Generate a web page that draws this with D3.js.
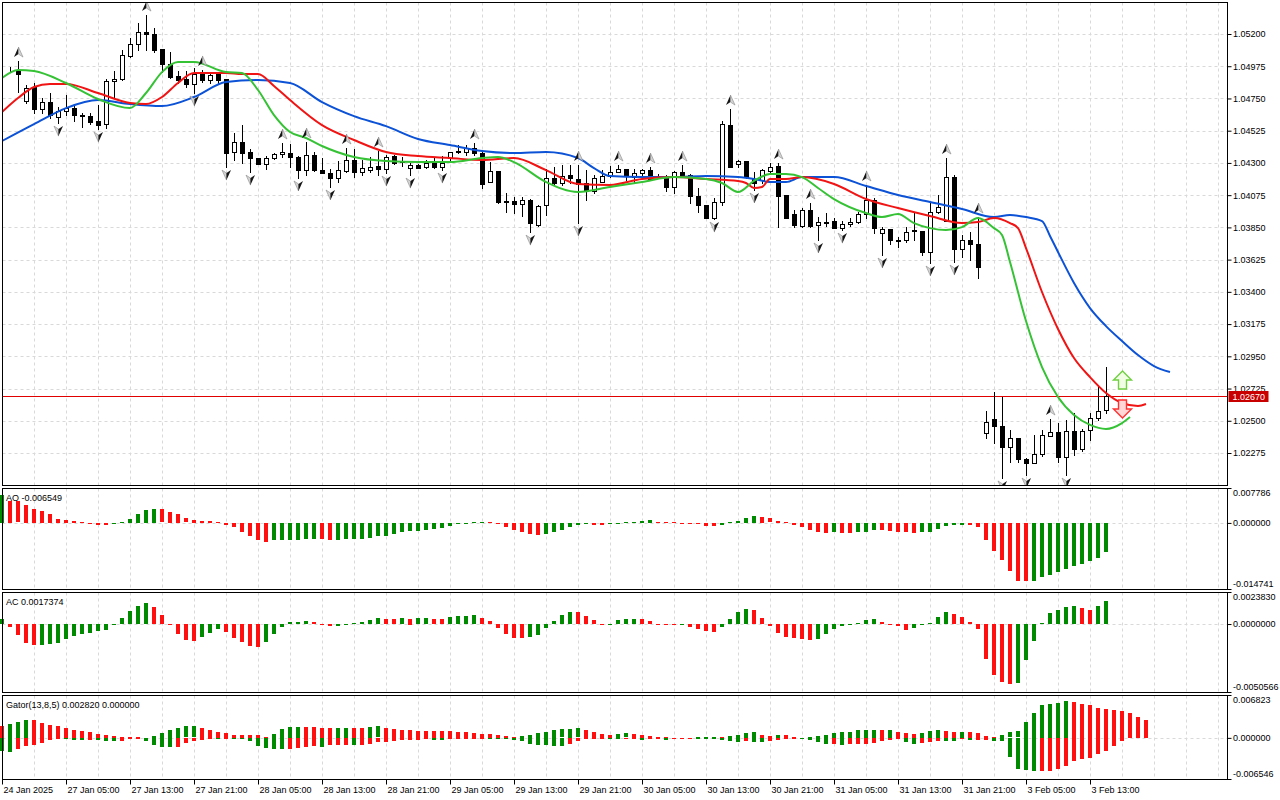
<!DOCTYPE html>
<html>
<head>
<meta charset="utf-8">
<script src="https://cdn.jsdelivr.net/npm/d3@7"></script>
<style>
  body { margin: 0; background: #fff; }
  svg { display: block; font-family: "Liberation Sans", Arial, sans-serif; }
</style>
</head>
<body>
<div id="chart"></div>
<script>
// EURUSD H1, 24 Jan - 3 Feb 2025
const open = [
  1.04955, 1.04952, 1.04949, 1.04732, 1.04830, 1.04676, 1.04725, 1.04620, 1.04662, 1.04683,
  1.04634, 1.04627, 1.04592, 1.04571, 1.04872, 1.04886, 1.05046, 1.05130, 1.05214, 1.05200,
  1.05095, 1.04990, 1.04906, 1.04886, 1.04851, 1.04927, 1.04879, 1.04920, 1.04886, 1.04376,
  1.04446, 1.04376, 1.04334, 1.04292, 1.04334, 1.04362, 1.04369, 1.04341, 1.04250, 1.04355,
  1.04250, 1.04229, 1.04195, 1.04243, 1.04320, 1.04236, 1.04250, 1.04278, 1.04257, 1.04348,
  1.04313, 1.04264, 1.04285, 1.04271, 1.04299, 1.04271, 1.04334, 1.04383, 1.04376, 1.04404,
  1.04369, 1.04167, 1.04243, 1.04034, 1.04034, 1.04013, 1.04041, 1.03866, 1.04006, 1.04195,
  1.04160, 1.04215, 1.04188, 1.04160, 1.04104, 1.04167, 1.04208, 1.04236, 1.04257, 1.04201,
  1.04229, 1.04250, 1.04208, 1.04208, 1.04132, 1.04236, 1.04215, 1.04069, 1.04006, 1.03915,
  1.04027, 1.04564, 1.04292, 1.04313, 1.04188, 1.04181, 1.04243, 1.04278, 1.04076, 1.03943,
  1.03859, 1.03971, 1.03866, 1.03887, 1.03894, 1.03845, 1.03873, 1.03887, 1.03943, 1.04041,
  1.03810, 1.03838, 1.03762, 1.03762, 1.03824, 1.03824, 1.03678, 1.03957, 1.03894, 1.04201,
  1.03699, 1.03762, 1.03734, 1.02414, 1.02512, 1.02463, 1.02317, 1.02380, 1.02233, 1.02205,
  1.02268, 1.02394, 1.02422, 1.02247, 1.02428, 1.02303, 1.02435, 1.02519, 1.02575
];
const high = [
  1.04962, 1.04969, 1.05011, 1.04844, 1.04858, 1.04753, 1.04788, 1.04690, 1.04774, 1.04697,
  1.04648, 1.04648, 1.04704, 1.04886, 1.04941, 1.05088, 1.05172, 1.05276, 1.05332, 1.05242,
  1.05095, 1.05074, 1.04941, 1.04941, 1.04962, 1.04949, 1.04927, 1.04927, 1.04886, 1.04509,
  1.04564, 1.04397, 1.04334, 1.04348, 1.04369, 1.04439, 1.04432, 1.04348, 1.04446, 1.04376,
  1.04334, 1.04257, 1.04313, 1.04404, 1.04397, 1.04320, 1.04341, 1.04383, 1.04355, 1.04355,
  1.04341, 1.04299, 1.04292, 1.04320, 1.04334, 1.04348, 1.04376, 1.04425, 1.04425, 1.04439,
  1.04376, 1.04306, 1.04243, 1.04090, 1.04062, 1.04062, 1.04048, 1.04006, 1.04257, 1.04271,
  1.04285, 1.04285, 1.04285, 1.04250, 1.04215, 1.04250, 1.04278, 1.04285, 1.04257, 1.04257,
  1.04257, 1.04271, 1.04222, 1.04215, 1.04243, 1.04285, 1.04222, 1.04125, 1.04006, 1.04055,
  1.04592, 1.04676, 1.04320, 1.04313, 1.04236, 1.04257, 1.04299, 1.04299, 1.04076, 1.03971,
  1.03985, 1.04020, 1.03922, 1.03950, 1.03915, 1.03894, 1.03915, 1.03957, 1.04146, 1.04055,
  1.03852, 1.03838, 1.03783, 1.03852, 1.03950, 1.03824, 1.04027, 1.04076, 1.04334, 1.04215,
  1.03797, 1.03817, 1.03922, 1.02568, 1.02701, 1.02666, 1.02435, 1.02380, 1.02240, 1.02401,
  1.02435, 1.02512, 1.02484, 1.02505, 1.02554, 1.02442, 1.02554, 1.02736, 1.02875
];
const low = [
  1.04948, 1.04941, 1.04795, 1.04718, 1.04648, 1.04648, 1.04613, 1.04578, 1.04634, 1.04592,
  1.04550, 1.04571, 1.04536, 1.04543, 1.04760, 1.04879, 1.05039, 1.05088, 1.05088, 1.05074,
  1.04934, 1.04893, 1.04858, 1.04830, 1.04788, 1.04865, 1.04858, 1.04858, 1.04271, 1.04320,
  1.04299, 1.04236, 1.04292, 1.04257, 1.04327, 1.04341, 1.04271, 1.04195, 1.04215, 1.04243,
  1.04229, 1.04132, 1.04167, 1.04236, 1.04201, 1.04215, 1.04236, 1.04215, 1.04229, 1.04292,
  1.04278, 1.04215, 1.04264, 1.04264, 1.04264, 1.04250, 1.04320, 1.04369, 1.04355, 1.04355,
  1.04125, 1.04167, 1.04020, 1.03957, 1.03950, 1.03929, 1.03817, 1.03859, 1.03936, 1.04146,
  1.04146, 1.04160, 1.03880, 1.04041, 1.04090, 1.04167, 1.04201, 1.04236, 1.04181, 1.04167,
  1.04215, 1.04181, 1.04195, 1.04104, 1.04090, 1.04201, 1.04020, 1.03957, 1.03915, 1.03908,
  1.04006, 1.04271, 1.04271, 1.04195, 1.04111, 1.04160, 1.04236, 1.03852, 1.03915, 1.03852,
  1.03852, 1.03852, 1.03762, 1.03859, 1.03845, 1.03831, 1.03859, 1.03880, 1.03915, 1.03810,
  1.03657, 1.03734, 1.03713, 1.03748, 1.03762, 1.03657, 1.03601, 1.03950, 1.03894, 1.03608,
  1.03643, 1.03622, 1.03497, 1.02380, 1.02345, 1.02101, 1.02212, 1.02212, 1.02121, 1.02205,
  1.02254, 1.02394, 1.02212, 1.02121, 1.02261, 1.02289, 1.02366, 1.02505, 1.02554
];
const close = [
  1.04955, 1.04950, 1.04920, 1.04823, 1.04676, 1.04725, 1.04634, 1.04662, 1.04683, 1.04634,
  1.04627, 1.04585, 1.04564, 1.04872, 1.04886, 1.05053, 1.05130, 1.05214, 1.05200, 1.05088,
  1.04990, 1.04900, 1.04879, 1.04851, 1.04920, 1.04879, 1.04913, 1.04879, 1.04369, 1.04446,
  1.04369, 1.04334, 1.04292, 1.04334, 1.04362, 1.04376, 1.04341, 1.04250, 1.04355, 1.04250,
  1.04229, 1.04195, 1.04250, 1.04320, 1.04236, 1.04264, 1.04271, 1.04257, 1.04341, 1.04299,
  1.04306, 1.04285, 1.04264, 1.04299, 1.04271, 1.04299, 1.04376, 1.04376, 1.04404, 1.04369,
  1.04153, 1.04243, 1.04027, 1.04027, 1.04013, 1.04041, 1.03880, 1.03999, 1.04195, 1.04160,
  1.04208, 1.04195, 1.04153, 1.04111, 1.04195, 1.04208, 1.04236, 1.04257, 1.04215, 1.04229,
  1.04250, 1.04188, 1.04201, 1.04132, 1.04236, 1.04215, 1.04069, 1.04006, 1.03915, 1.04027,
  1.04571, 1.04271, 1.04313, 1.04201, 1.04160, 1.04250, 1.04271, 1.04069, 1.03915, 1.03866,
  1.03971, 1.03859, 1.03887, 1.03880, 1.03845, 1.03873, 1.03887, 1.03943, 1.04041, 1.03845,
  1.03838, 1.03762, 1.03755, 1.03817, 1.03831, 1.03678, 1.03957, 1.03992, 1.04201, 1.03699,
  1.03762, 1.03734, 1.03573, 1.02491, 1.02463, 1.02317, 1.02380, 1.02233, 1.02205, 1.02268,
  1.02401, 1.02422, 1.02247, 1.02428, 1.02303, 1.02428, 1.02519, 1.02568, 1.02670
];

// bar indexes carrying a fractal mark
const fractalUp = [2, 18, 25, 35, 38, 43, 47, 59, 72, 77, 81, 85, 91, 97, 101, 108, 118, 122, 131];
const fractalDown = [7, 12, 24, 28, 31, 37, 41, 48, 51, 55, 66, 72, 89, 94, 102, 105, 110, 116, 119, 125, 128, 133];

// alligator lines, [bar, price] (already shifted forward)
const jaw = [
  [0, 1.04453], [4, 1.04571], [8, 1.04683], [12, 1.04739], [16, 1.04711], [20, 1.04697], [24, 1.04760],
  [28, 1.04865], [32, 1.04879], [36, 1.04858], [40, 1.04725], [44, 1.04627], [48, 1.04557], [52, 1.04467],
  [56, 1.04425], [60, 1.04383], [64, 1.04369], [68, 1.04376], [72, 1.04334], [74, 1.04264], [76, 1.04208],
  [80, 1.04201], [84, 1.04201], [88, 1.04208], [92, 1.04201], [94, 1.04188], [96, 1.04167], [98, 1.04167],
  [100, 1.04201], [104, 1.04201], [108, 1.04139], [112, 1.04076], [116, 1.04027], [120, 1.03978],
  [124, 1.03922], [126, 1.03936], [128, 1.03922], [130, 1.03894], [131, 1.03790], [132, 1.03678],
  [134, 1.03462], [136, 1.03287], [138, 1.03161], [140, 1.03057], [142, 1.02959], [144, 1.02882], [146, 1.02840]
];
const teeth = [
  [0, 1.04655], [2, 1.04753], [4, 1.04830], [6, 1.04851], [8, 1.04851], [12, 1.04788], [16, 1.04718],
  [18, 1.04711], [20, 1.04760], [22, 1.04858], [24, 1.04927], [28, 1.04927], [30, 1.04920], [32, 1.04920],
  [34, 1.04837], [36, 1.04739], [40, 1.04564], [44, 1.04460], [48, 1.04376], [52, 1.04348], [56, 1.04334],
  [60, 1.04320], [64, 1.04334], [68, 1.04250], [72, 1.04153], [76, 1.04146], [80, 1.04188], [84, 1.04201],
  [88, 1.04188], [92, 1.04174], [93, 1.04160], [94, 1.04125], [95, 1.04132], [96, 1.04188], [98, 1.04188],
  [100, 1.04201], [104, 1.04153], [108, 1.04048], [112, 1.03985], [116, 1.03929], [120, 1.03880],
  [122, 1.03887], [124, 1.03915], [126, 1.03880], [127, 1.03845], [128, 1.03706], [130, 1.03399],
  [132, 1.03141], [134, 1.02938], [136, 1.02805], [138, 1.02694], [140, 1.02624], [142, 1.02603], [143, 1.02617]
];
const lips = [
  [0, 1.04893], [2, 1.04949], [4, 1.04941], [8, 1.04858], [12, 1.04746], [16, 1.04683], [18, 1.04788],
  [20, 1.04934], [22, 1.05004], [24, 1.05004], [28, 1.04934], [30, 1.04927], [32, 1.04809], [34, 1.04634],
  [36, 1.04516], [38, 1.04474], [40, 1.04418], [44, 1.04341], [48, 1.04313], [52, 1.04306], [56, 1.04306],
  [60, 1.04334], [62, 1.04341], [64, 1.04306], [68, 1.04167], [72, 1.04097], [76, 1.04132], [80, 1.04167],
  [84, 1.04201], [88, 1.04188], [90, 1.04160], [92, 1.04097], [94, 1.04174], [96, 1.04222], [98, 1.04222],
  [100, 1.04201], [102, 1.04125], [104, 1.04048], [108, 1.03950], [110, 1.03922], [112, 1.03943],
  [114, 1.03880], [116, 1.03845], [118, 1.03831], [120, 1.03852], [122, 1.03915], [124, 1.03845],
  [125, 1.03797], [126, 1.03608], [128, 1.03196], [130, 1.02875], [132, 1.02666], [134, 1.02540],
  [136, 1.02471], [138, 1.02443], [140, 1.02484], [141, 1.02526]
];

const ao = [
  0.00624, 0.00482, 0.00478, 0.00392, 0.00319, 0.00259, 0.00192, 0.00096, 0.00074, 0.00050,
  0.00015, 0.00005, -0.00040, -0.00050, -0.00030, 0.00010, 0.00090, 0.00190, 0.00280, 0.00320,
  0.00300, 0.00250, 0.00190, 0.00100, 0.00070, 0.00050, 0.00040, 0.00030, -0.00040, -0.00100,
  -0.00190, -0.00280, -0.00370, -0.00416, -0.00390, -0.00383, -0.00376, -0.00372, -0.00365, -0.00358,
  -0.00365, -0.00372, -0.00369, -0.00366, -0.00362, -0.00355, -0.00335, -0.00282, -0.00280, -0.00250,
  -0.00208, -0.00186, -0.00171, -0.00149, -0.00125, -0.00115, -0.00074, -0.00030, 0.00000, 0.00020,
  0.00030, 0.00020, -0.00010, -0.00080, -0.00150, -0.00190, -0.00240, -0.00260, -0.00240, -0.00190,
  -0.00150, -0.00100, -0.00050, -0.00030, -0.00035, -0.00050, -0.00020, -0.00010, 0.00010, 0.00030,
  0.00050, 0.00060, 0.00030, 0.00020, 0.00010, 0.00000, -0.00010, -0.00020, -0.00060, -0.00070,
  -0.00050, 0.00010, 0.00050, 0.00110, 0.00160, 0.00140, 0.00100, 0.00050, 0.00020, -0.00050,
  -0.00100, -0.00160, -0.00210, -0.00230, -0.00210, -0.00215, -0.00230, -0.00200, -0.00190, -0.00160,
  -0.00165, -0.00170, -0.00190, -0.00210, -0.00230, -0.00210, -0.00190, -0.00130, -0.00070, -0.00050,
  -0.00040, -0.00050, -0.00100, -0.00390, -0.00630, -0.00830, -0.01060, -0.01290, -0.01292, -0.01288,
  -0.01210, -0.01150, -0.01100, -0.01020, -0.00950, -0.00910, -0.00850, -0.00770, -0.006549
];
const ac = [
  0.00035, -0.00020, -0.00082, -0.00144, -0.00156, -0.00155, -0.00149, -0.00141, -0.00112, -0.00087,
  -0.00074, -0.00069, -0.00052, -0.00045, -0.00007, 0.00047, 0.00097, 0.00134, 0.00154, 0.00129,
  0.00067, -0.00005, -0.00074, -0.00119, -0.00126, -0.00097, -0.00069, -0.00037, -0.00057, -0.00102,
  -0.00131, -0.00161, -0.00169, -0.00131, -0.00074, -0.00020, 0.00015, 0.00016, 0.00020, 0.00015,
  -0.00002, -0.00015, -0.00012, 0.00000, 0.00007, 0.00012, 0.00030, 0.00047, 0.00037, 0.00035,
  0.00042, 0.00041, 0.00043, 0.00044, 0.00037, 0.00036, 0.00052, 0.00057, 0.00058, 0.00067,
  0.00042, 0.00022, -0.00027, -0.00074, -0.00102, -0.00103, -0.00100, -0.00082, -0.00027, 0.00022,
  0.00067, 0.00087, 0.00086, 0.00060, 0.00030, -0.00002, 0.00000, 0.00030, 0.00037, 0.00038,
  0.00037, 0.00022, 0.00000, -0.00005, -0.00008, -0.00007, -0.00020, -0.00037, -0.00050, -0.00057,
  -0.00020, 0.00037, 0.00092, 0.00112, 0.00104, 0.00047, -0.00012, -0.00064, -0.00094, -0.00102,
  -0.00112, -0.00119, -0.00112, -0.00074, -0.00037, -0.00012, 0.00002, 0.00010, 0.00030, 0.00037,
  0.00017, -0.00005, -0.00012, -0.00045, -0.00027, -0.00002, 0.00010, 0.00055, 0.00092, 0.00074,
  0.00055, 0.00017, -0.00037, -0.00260, -0.00380, -0.00430, -0.00446, -0.00437, -0.00268, -0.00126,
  0.00005, 0.00084, 0.00104, 0.00126, 0.00134, 0.00119, 0.00104, 0.00134, 0.0017374
];
const gatorUp = [
  0.00196, 0.00228, 0.00260, 0.00292, 0.00281, 0.00239, 0.00212, 0.00196, 0.00165, 0.00133,
  0.00117, 0.00090, 0.00058, 0.00053, 0.00037, 0.00016, 0.00010, 0.00006, 0.00003, 0.00037,
  0.00080, 0.00122, 0.00154, 0.00181, 0.00183, 0.00154, 0.00133, 0.00101, 0.00080, 0.00053,
  0.00050, 0.00048, 0.00046, 0.00015, 0.00069, 0.00149, 0.00175, 0.00177, 0.00174, 0.00172,
  0.00159, 0.00157, 0.00160, 0.00162, 0.00160, 0.00155, 0.00180, 0.00182, 0.00160, 0.00143,
  0.00133, 0.00122, 0.00117, 0.00116, 0.00106, 0.00105, 0.00104, 0.00096, 0.00090, 0.00085,
  0.00069, 0.00068, 0.00053, 0.00027, 0.00010, 0.00037, 0.00053, 0.00080, 0.00100, 0.00133,
  0.00134, 0.00149, 0.00150, 0.00133, 0.00096, 0.00069, 0.00053, 0.00069, 0.00070, 0.00069,
  0.00053, 0.00037, 0.00021, 0.00016, 0.00005, 0.00002, 0.00001, 0.00008, 0.00016, 0.00017,
  0.00015, 0.00025, 0.00042, 0.00074, 0.00090, 0.00053, 0.00027, 0.00053, 0.00052, 0.00016,
  0.00002, 0.00016, 0.00027, 0.00042, 0.00074, 0.00100, 0.00101, 0.00122, 0.00123, 0.00124,
  0.00122, 0.00124, 0.00100, 0.00080, 0.00069, 0.00080, 0.00117, 0.00133, 0.00117, 0.00100,
  0.00101, 0.00090, 0.00074, 0.00037, 0.00016, 0.00053, 0.00086, 0.00102, 0.00260, 0.00390,
  0.00520, 0.00535, 0.00562, 0.00583, 0.00567, 0.00546, 0.00520, 0.00482, 0.00455, 0.00439,
  0.00423, 0.00401, 0.00337, 0.00282
];
const gatorDown = [
  -0.00212, -0.00228, -0.00175, -0.00133, -0.00106, -0.00080, -0.00037, -0.00010, -0.00016, -0.00037,
  -0.00038, -0.00036, -0.00037, -0.00053, -0.00054, -0.00050, -0.00016, -0.00010, -0.00053, -0.00106,
  -0.00143, -0.00149, -0.00147, -0.00080, -0.00053, -0.00037, -0.00016, -0.00018, -0.00010, -0.00012,
  -0.00014, -0.00053, -0.00133, -0.00165, -0.00175, -0.00177, -0.00174, -0.00159, -0.00149, -0.00133,
  -0.00149, -0.00117, -0.00115, -0.00113, -0.00117, -0.00106, -0.00090, -0.00070, -0.00068, -0.00053,
  -0.00037, -0.00036, -0.00027, -0.00016, -0.00027, -0.00030, -0.00016, -0.00010, -0.00009, -0.00005,
  -0.00002, -0.00005, -0.00010, -0.00016, -0.00027, -0.00042, -0.00090, -0.00106, -0.00107, -0.00122,
  -0.00123, -0.00090, -0.00042, -0.00016, -0.00010, -0.00005, -0.00010, -0.00011, -0.00005, -0.00004,
  -0.00027, -0.00020, -0.00015, -0.00027, -0.00010, -0.00005, -0.00001, -0.00002, -0.00005, -0.00010,
  -0.00027, -0.00053, -0.00069, -0.00053, -0.00069, -0.00070, -0.00042, -0.00027, -0.00010, -0.00005,
  -0.00010, -0.00027, -0.00069, -0.00090, -0.00088, -0.00106, -0.00090, -0.00089, -0.00088, -0.00087,
  -0.00053, -0.00027, -0.00010, -0.00069, -0.00090, -0.00080, -0.00069, -0.00042, -0.00053, -0.00054,
  -0.00010, -0.00037, -0.00027, -0.00026, -0.00053, -0.00054, -0.00310, -0.00492, -0.00515, -0.00530,
  -0.00522, -0.00518, -0.00492, -0.00439, -0.00364, -0.00332, -0.00320, -0.00257, -0.00203, -0.00134,
  -0.00054
];

const timeLabels = ["24 Jan 2025", "27 Jan 05:00", "27 Jan 13:00", "27 Jan 21:00", "28 Jan 05:00",
  "28 Jan 13:00", "28 Jan 21:00", "29 Jan 05:00", "29 Jan 13:00", "29 Jan 21:00", "30 Jan 05:00",
  "30 Jan 13:00", "30 Jan 21:00", "31 Jan 05:00", "31 Jan 13:00", "31 Jan 21:00", "3 Feb 05:00", "3 Feb 13:00"];
const labelBars = timeLabels.map(function (d, i) { return i * 8; });
const priceTicks = [1.05200, 1.04975, 1.04750, 1.04525, 1.04300, 1.04075, 1.03850, 1.03625,
  1.03400, 1.03175, 1.02950, 1.02725, 1.02500, 1.02275];
const lastPrice = 1.02670;
// alligator signal arrows
const signals = [{ bar: 140, price: 1.02785, dir: "up" }, { bar: 140, price: 1.02582, dir: "down" }];
const aoRange = [-0.014741, 0.007786], acRange = [-0.0050566, 0.0023830], gatorRange = [-0.006546, 0.006823];

const GREEN = "#008a00", RED = "#ff1010";
const L = 2.5, R = 1227.5;
const panels = {
  main: [2.5, 485.5], ao: [488.5, 589.5], ac: [592.5, 692.5], gator: [695.5, 779.5]
};

let svg = d3.select("#chart").append("svg")
  .attr("width", 1280).attr("height", 800);

let x = d3.scaleLinear().domain([0, 138]).range([2, 1106]);
let y = d3.scaleLinear().domain([1.020517, 1.054234]).range([485, 2]);
let yAO = d3.scaleLinear().domain(aoRange).range([589, 488]);
let yAC = d3.scaleLinear().domain(acRange).range([692, 592]);
let yG = d3.scaleLinear().domain(gatorRange).range([779, 695]);

svg.append("defs").append("clipPath").attr("id", "clipMain")
  .append("rect").attr("x", L).attr("y", panels.main[0]).attr("width", R - L).attr("height", panels.main[1] - panels.main[0]);

// grid: vertical every 4 bars
let gridBars = d3.range(4, 160, 4).filter(function (i) { return x(i) < R - 2; });
Object.keys(panels).forEach(function (k) {
  svg.append("g").selectAll("line").data(gridBars).enter().append("line")
    .attr("x1", function (d) { return Math.round(x(d)) + 0.5; })
    .attr("x2", function (d) { return Math.round(x(d)) + 0.5; })
    .attr("y1", panels[k][0]).attr("y2", panels[k][1])
    .attr("stroke", "#d9d9d9").attr("stroke-dasharray", "3,3");
});
svg.append("g").selectAll("line").data(priceTicks).enter().append("line")
  .attr("x1", L).attr("x2", R)
  .attr("y1", function (d) { return Math.round(y(d)) + 0.5; })
  .attr("y2", function (d) { return Math.round(y(d)) + 0.5; })
  .attr("stroke", "#d9d9d9").attr("stroke-dasharray", "3,3");
[[yAO, "ao"], [yAC, "ac"], [yG, "gator"]].forEach(function (p) {
  svg.append("line").attr("x1", L).attr("x2", R)
    .attr("y1", Math.round(p[0](0)) + 0.5).attr("y2", Math.round(p[0](0)) + 0.5)
    .attr("stroke", "#d9d9d9").attr("stroke-dasharray", "3,3");
});

// current price line
svg.append("line").attr("x1", L).attr("x2", R)
  .attr("y1", Math.round(y(lastPrice)) + 0.5).attr("y2", Math.round(y(lastPrice)) + 0.5)
  .attr("stroke", "#e00000").attr("stroke-width", 1);

// candles
let main = svg.append("g").attr("clip-path", "url(#clipMain)");
let bars = d3.range(open.length);
main.selectAll("line.wick").data(bars).enter().append("line")
  .attr("class", "wick")
  .attr("x1", function (i) { return Math.round(x(i)) + 0.5; })
  .attr("x2", function (i) { return Math.round(x(i)) + 0.5; })
  .attr("y1", function (i) { return Math.round(y(high[i])); })
  .attr("y2", function (i) { return Math.round(y(low[i])) + 1; })
  .attr("stroke", "#000");
main.selectAll("rect.body").data(bars).enter().append("rect")
  .attr("class", "body")
  .attr("x", function (i) { return Math.round(x(i)) - 2 + 0.5; })
  .attr("y", function (i) { return Math.round(y(Math.max(open[i], close[i]))) + 0.5; })
  .attr("width", 4)
  .attr("height", function (i) { return Math.max(0, Math.round(y(Math.min(open[i], close[i]))) - Math.round(y(Math.max(open[i], close[i])))); })
  .attr("fill", function (i) { return close[i] >= open[i] ? "#fff" : "#000"; })
  .attr("stroke", "#000");

// alligator
let line = d3.line()
  .x(function (d) { return x(d[0]); })
  .y(function (d) { return y(d[1]); })
  .curve(d3.curveMonotoneX);
[[jaw, "#0c52d6"], [teeth, "#f01414"], [lips, "#35c235"]].forEach(function (a) {
  main.append("path").datum(a[0])
    .attr("fill", "none").attr("stroke", a[1]).attr("stroke-width", 2)
    .attr("d", line);
});

// fractals
function fractal(g, dir) {
  if (dir === "up") {
    g.append("path").attr("d", "M0,-5 L0,2 L-4.5,5 Z").attr("fill", "#151515");
    g.append("path").attr("d", "M0,-5 L4.5,5 L0,2 Z").attr("fill", "#d4d4d4").attr("stroke", "#8a8a8a").attr("stroke-width", 0.6);
  } else {
    g.append("path").attr("d", "M0,5 L-4.5,-5 L0,-2 Z").attr("fill", "#d4d4d4").attr("stroke", "#8a8a8a").attr("stroke-width", 0.6);
    g.append("path").attr("d", "M0,5 L0,-2 L4.5,-5 Z").attr("fill", "#151515");
  }
}
fractalUp.forEach(function (i) {
  let g = main.append("g").attr("transform", "translate(" + (Math.round(x(i)) + 0.5) + "," + (y(high[i]) - 9) + ")");
  fractal(g, "up");
});
fractalDown.forEach(function (i) {
  let g = main.append("g").attr("transform", "translate(" + (Math.round(x(i)) + 0.5) + "," + (y(low[i]) + 8) + ")");
  fractal(g, "down");
});

// signal arrows
signals.forEach(function (s) {
  let g = main.append("g").attr("transform", "translate(" + (Math.round(x(s.bar)) + 0.5) + "," + Math.round(y(s.price)) + ")");
  if (s.dir === "up") {
    g.append("path").attr("d", "M0,-9 L9,0 L4,0 L4,9 L-4,9 L-4,0 L-9,0 Z")
      .attr("fill", "#f2fde6").attr("stroke", "#6fd040").attr("stroke-width", 1.4);
  } else {
    g.append("path").attr("d", "M0,9 L9,0 L4,0 L4,-9 L-4,-9 L-4,0 L-9,0 Z")
      .attr("fill", "#ffd6d6").attr("stroke", "#ff3030").attr("stroke-width", 1.4);
  }
});

// histograms
function histo(data, scale, colorFn) {
  svg.append("g").selectAll("rect").data(data).enter().append("rect")
    .attr("x", function (d, i) { return Math.round(x(i)) - 2; })
    .attr("width", 4)
    .attr("y", function (d) { return Math.round(Math.min(scale(d), scale(0))); })
    .attr("height", function (d) { return Math.max(1, Math.round(Math.abs(scale(d) - scale(0)))); })
    .attr("fill", function (d, i) { return colorFn(d, i); });
}
histo(ao, yAO, function (d, i) { return i === 0 || d > ao[i - 1] ? GREEN : RED; });
histo(ac, yAC, function (d, i) { return i === 0 || d > ac[i - 1] ? GREEN : RED; });
histo(gatorUp, yG, function (d, i) { return i === 0 || Math.abs(d) > Math.abs(gatorUp[i - 1]) ? (i === 0 ? RED : GREEN) : RED; });
histo(gatorDown, yG, function (d, i) { return i === 0 || Math.abs(d) > Math.abs(gatorDown[i - 1]) ? GREEN : RED; });

// panel borders
Object.keys(panels).forEach(function (k) {
  svg.append("rect").attr("x", L).attr("y", panels[k][0])
    .attr("width", R - L).attr("height", panels[k][1] - panels[k][0])
    .attr("fill", "none").attr("stroke", "#000");
});

// price axis
let pAxis = svg.append("g").attr("transform", "translate(" + R + ",0)")
  .call(d3.axisRight(y).tickValues(priceTicks).tickSize(4).tickFormat(function (d) { return d.toFixed(5); }));
pAxis.select(".domain").remove();
pAxis.selectAll("text").attr("x", 5.5).attr("font-size", 9).attr("font-family", "Liberation Sans, Arial, sans-serif").attr("fill", "#000");
pAxis.selectAll("line").attr("stroke", "#000");

// last price tag
svg.append("rect").attr("x", R + 1).attr("y", Math.round(y(lastPrice)) - 5)
  .attr("width", 40).attr("height", 11).attr("fill", "#c80000");
svg.append("text").attr("x", R + 5).attr("y", Math.round(y(lastPrice)) + 4)
  .attr("font-size", 9).attr("fill", "#fff").text(lastPrice.toFixed(5));

// indicator axes
function subAxis(scale, range, digits) {
  let vals = [range[1], 0, range[0]];
  let g = svg.append("g").attr("transform", "translate(" + R + ",0)")
    .call(d3.axisRight(scale).tickValues(vals).tickSize(4).tickFormat(function (d) { return d.toFixed(digits); }));
  g.select(".domain").remove();
  g.selectAll("line").attr("stroke", "#000");
  g.selectAll("text").attr("x", 5.5).attr("font-size", 9).attr("font-family", "Liberation Sans, Arial, sans-serif").attr("fill", "#000")
    .attr("y", function (d, i) { return i === 0 ? 4.5 : (i === 2 ? -5 : 0); });
}
subAxis(yAO, aoRange, 6);
subAxis(yAC, acRange, 7);
subAxis(yG, gatorRange, 6);

// indicator titles
svg.append("text").attr("x", 6).attr("y", panels.ao[0] + 12).attr("font-size", 9)
  .text("AO " + ao[ao.length - 1].toFixed(6));
svg.append("text").attr("x", 6).attr("y", panels.ac[0] + 12.5).attr("font-size", 9)
  .text("AC " + ac[ac.length - 1].toFixed(7));
svg.append("text").attr("x", 6).attr("y", panels.gator[0] + 12).attr("font-size", 9)
  .text("Gator(13,8,5) " + gatorUp[gatorUp.length - 1].toFixed(6) + " " + (0).toFixed(6));

// time axis
let tAxis = svg.append("g").attr("transform", "translate(0," + panels.gator[1] + ")")
  .call(d3.axisBottom(x).tickValues(labelBars).tickSize(5).tickFormat(function (d, i) { return timeLabels[i]; }));
tAxis.select(".domain").remove();
tAxis.selectAll("line").attr("stroke", "#000");
tAxis.selectAll("text").attr("text-anchor", "start").attr("x", 1).attr("y", 7)
  .attr("font-size", 9).attr("font-family", "Liberation Sans, Arial, sans-serif").attr("fill", "#000");
</script>
</body>
</html>
